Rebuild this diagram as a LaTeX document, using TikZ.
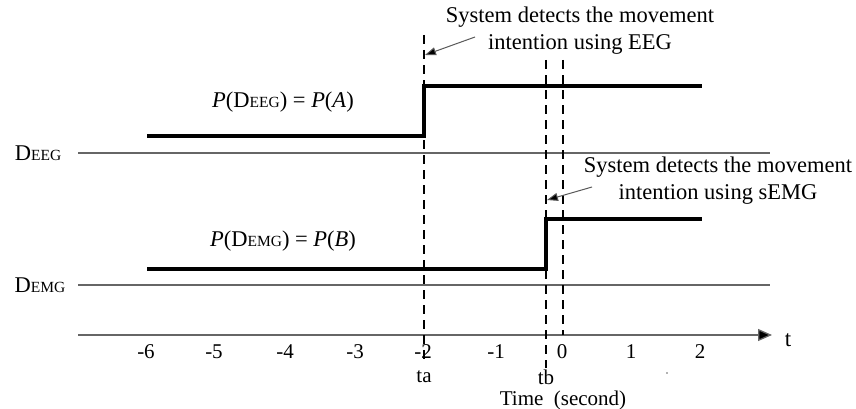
\documentclass[tikz,border=0pt]{standalone}
\usepackage{fontspec}
\setmainfont{Liberation Serif}
\usetikzlibrary{arrows.meta}
\newcommand{\fakesc}[2]{#1{\fontsize{15.5}{15.5}\selectfont #2}}
\begin{document}
\begin{tikzpicture}[x=1pt,y=1pt,
  thinline/.style={draw=black!60, line width=1.3pt},
  stepline/.style={draw=black, line width=3.2pt},
  guide/.style={draw=black, line width=1.2pt, dash pattern=on 9pt off 6pt},
  callout/.style={draw=black!65, line width=1pt, -{Triangle[length=11pt,width=8pt,fill=black]}},
  lbl/.style={inner sep=0pt, font=\fontsize{22.5}{22.5}\selectfont},
  ticklbl/.style={inner sep=0pt, font=\fontsize{21}{21}\selectfont},
  note/.style={inner sep=0pt, align=center, font=\fontsize{22.5}{27}\selectfont}]
\useasboundingbox (0,0) rectangle (856,408);
\fill[white] (0,0) rectangle (856,408);

% threshold lines
\node[lbl] (deeg) at (38,255) {\fakesc{D}{EEG}};
\node[lbl] (demg) at (40,123) {\fakesc{D}{EMG}};
\coordinate (deegL) at (78,255); \coordinate (deegR) at (770,255);
\coordinate (demgL) at (78,123); \coordinate (demgR) at (770,123);
\draw[thinline] (deegL) -- (deegR);
\draw[thinline] (demgL) -- (demgR);

% time axis
\coordinate (axL) at (78,73); \coordinate (axR) at (772,73);
\draw[thinline, -{Triangle[length=14pt,width=12pt,fill=black]}] (axL) -- (axR);
\node[inner sep=0pt, font=\fontsize{23}{23}\selectfont] (tlab) at (788,68) {t};

% dashed guides
\coordinate (taT) at (424,373); \coordinate (taB) at (424,49);
\coordinate (tbT) at (546,348); \coordinate (tbB) at (546,40);
\coordinate (zT) at (563,348); \coordinate (zB) at (563,73);
\draw[guide] (taT) -- (taB);
\draw[guide] (tbT) -- (tbB);
\draw[guide] (zT) -- (zB);

% EEG step
\coordinate (e1) at (147,272); \coordinate (e2) at (424,272);
\coordinate (e3) at (424,322); \coordinate (e4) at (702,322);
\draw[stepline] (e1) -- (e2) -- (e3) -- (e4);
% EMG step
\coordinate (m1) at (147,139); \coordinate (m2) at (546,139);
\coordinate (m3) at (546,189); \coordinate (m4) at (702,189);
\draw[stepline] (m1) -- (m2) -- (m3) -- (m4);

% probability labels
\node[lbl] (pa) at (283,306) {\textit{P}(\fakesc{D}{EEG}) = \textit{P}(\textit{A})};
\node[lbl] (pb) at (283,167) {\textit{P}(\fakesc{D}{EMG}) = \textit{P}(\textit{B})};

% tick labels
\node[ticklbl] (tm6) at (146,56) {-6};
\node[ticklbl] (tm5) at (214,56) {-5};
\node[ticklbl] (tm4) at (285,56) {-4};
\node[ticklbl] (tm3) at (355,56) {-3};
\node[ticklbl] (tm2) at (423,56) {-2};
\node[ticklbl] (tm1) at (496,56) {-1};
\node[ticklbl] (t0) at (562,56) {0};
\node[ticklbl] (t1) at (631,56) {1};
\node[ticklbl] (t2) at (700,56) {2};
\node[ticklbl] (ta) at (424,31) {ta};
\node[ticklbl] (tb) at (546,31) {tb};
\node[ticklbl] (time) at (563,8) {Time\ \ (second)};

% callouts
\node[note] (n1) at (580,377) {System detects the movement\\intention using EEG};
\coordinate (a1s) at (475,371); \coordinate (a1e) at (425,353);
\draw[callout] (a1s) -- (a1e);
\node[note] (n2) at (718,227) {System detects the movement\\intention using sEMG};
\coordinate (a2s) at (592,221); \coordinate (a2e) at (547,208);
\draw[callout] (a2s) -- (a2e);

\fill[black!60] (667,35) circle (0.8);
\end{tikzpicture}
\end{document}
